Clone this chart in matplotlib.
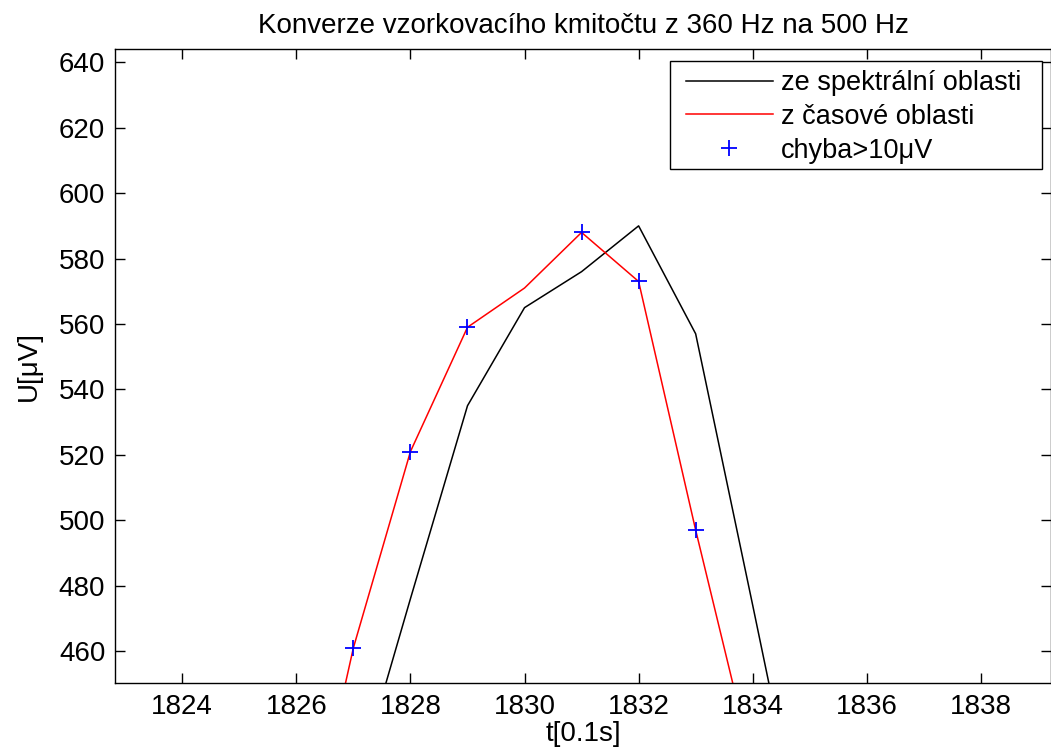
import matplotlib
matplotlib.use('Agg')
import matplotlib.pyplot as plt
from matplotlib.patches import Rectangle
from matplotlib.ticker import MultipleLocator

# resampled signal around the peak (t in 0.1 s, U in microvolts)
t_spec = [1826, 1827, 1828, 1829, 1830, 1831, 1832, 1833, 1834, 1835]
u_spec = [356, 416, 476, 535, 565, 576, 590, 557, 474, 390]

t_time = [1826, 1827, 1828, 1829, 1830, 1831, 1832, 1833, 1834]
u_time = [383, 461, 521, 559, 571, 588, 573, 497, 425]

# samples where the two methods differ by more than 10 uV
t_err = [1827, 1828, 1829, 1831, 1832, 1833]
u_err = [461, 521, 559, 588, 573, 497]

plt.rcParams['font.family'] = ['Liberation Sans', 'DejaVu Sans']

W, H = 1051, 751
fig = plt.figure(figsize=(W / 100, H / 100), dpi=100)
ax = fig.add_axes([115 / W, 1 - 682.7 / H, (W - 115) / W, (682.7 - 49.3) / H])

ax.plot(t_spec, u_spec, color='k', lw=1.1, label='ze spektrální oblasti')
ax.plot(t_time, u_time, color='red', lw=1.1, label='z časové oblasti')
ax.plot(t_err, u_err, '+', color='blue', ms=12, mew=1.3, label='chyba>10μV')

ax.set_xlim(1822.82, 1839.23)
ax.set_ylim(450.3, 644.0)
ax.xaxis.set_major_locator(MultipleLocator(2))
ax.yaxis.set_major_locator(MultipleLocator(20))
ax.tick_params(direction='in', length=7, width=1, top=True, right=True,
               labelsize=20, pad=7)
ax.tick_params(axis='x', pad=8)
for s in ax.spines.values():
    s.set_linewidth(1)

ax.set_title('Konverze vzorkovacího kmitočtu z 360 Hz na 500 Hz',
             fontsize=20, pad=12)
ax.set_xlabel('t[0.1s]', fontsize=20, labelpad=1)
ax.set_ylabel('U[μV]', fontsize=20, labelpad=12)

# legend entries without their own frame; the box is drawn separately
leg = ax.legend(loc='upper left', bbox_to_anchor=(686 / W, 1 - 70 / H),
                bbox_transform=fig.transFigure, borderaxespad=0, borderpad=0,
                fontsize=19.5, frameon=False, handlelength=3.2,
                handletextpad=0.32, labelspacing=0.29)
leg.set_zorder(6)
box = Rectangle((670 / W, 1 - 169 / H), (1042 - 670) / W, (169 - 61) / H,
                transform=fig.transFigure, facecolor='white', edgecolor='k',
                lw=1, zorder=5, clip_on=False)
ax.add_patch(box)

fig.savefig('out.png', dpi=100)
